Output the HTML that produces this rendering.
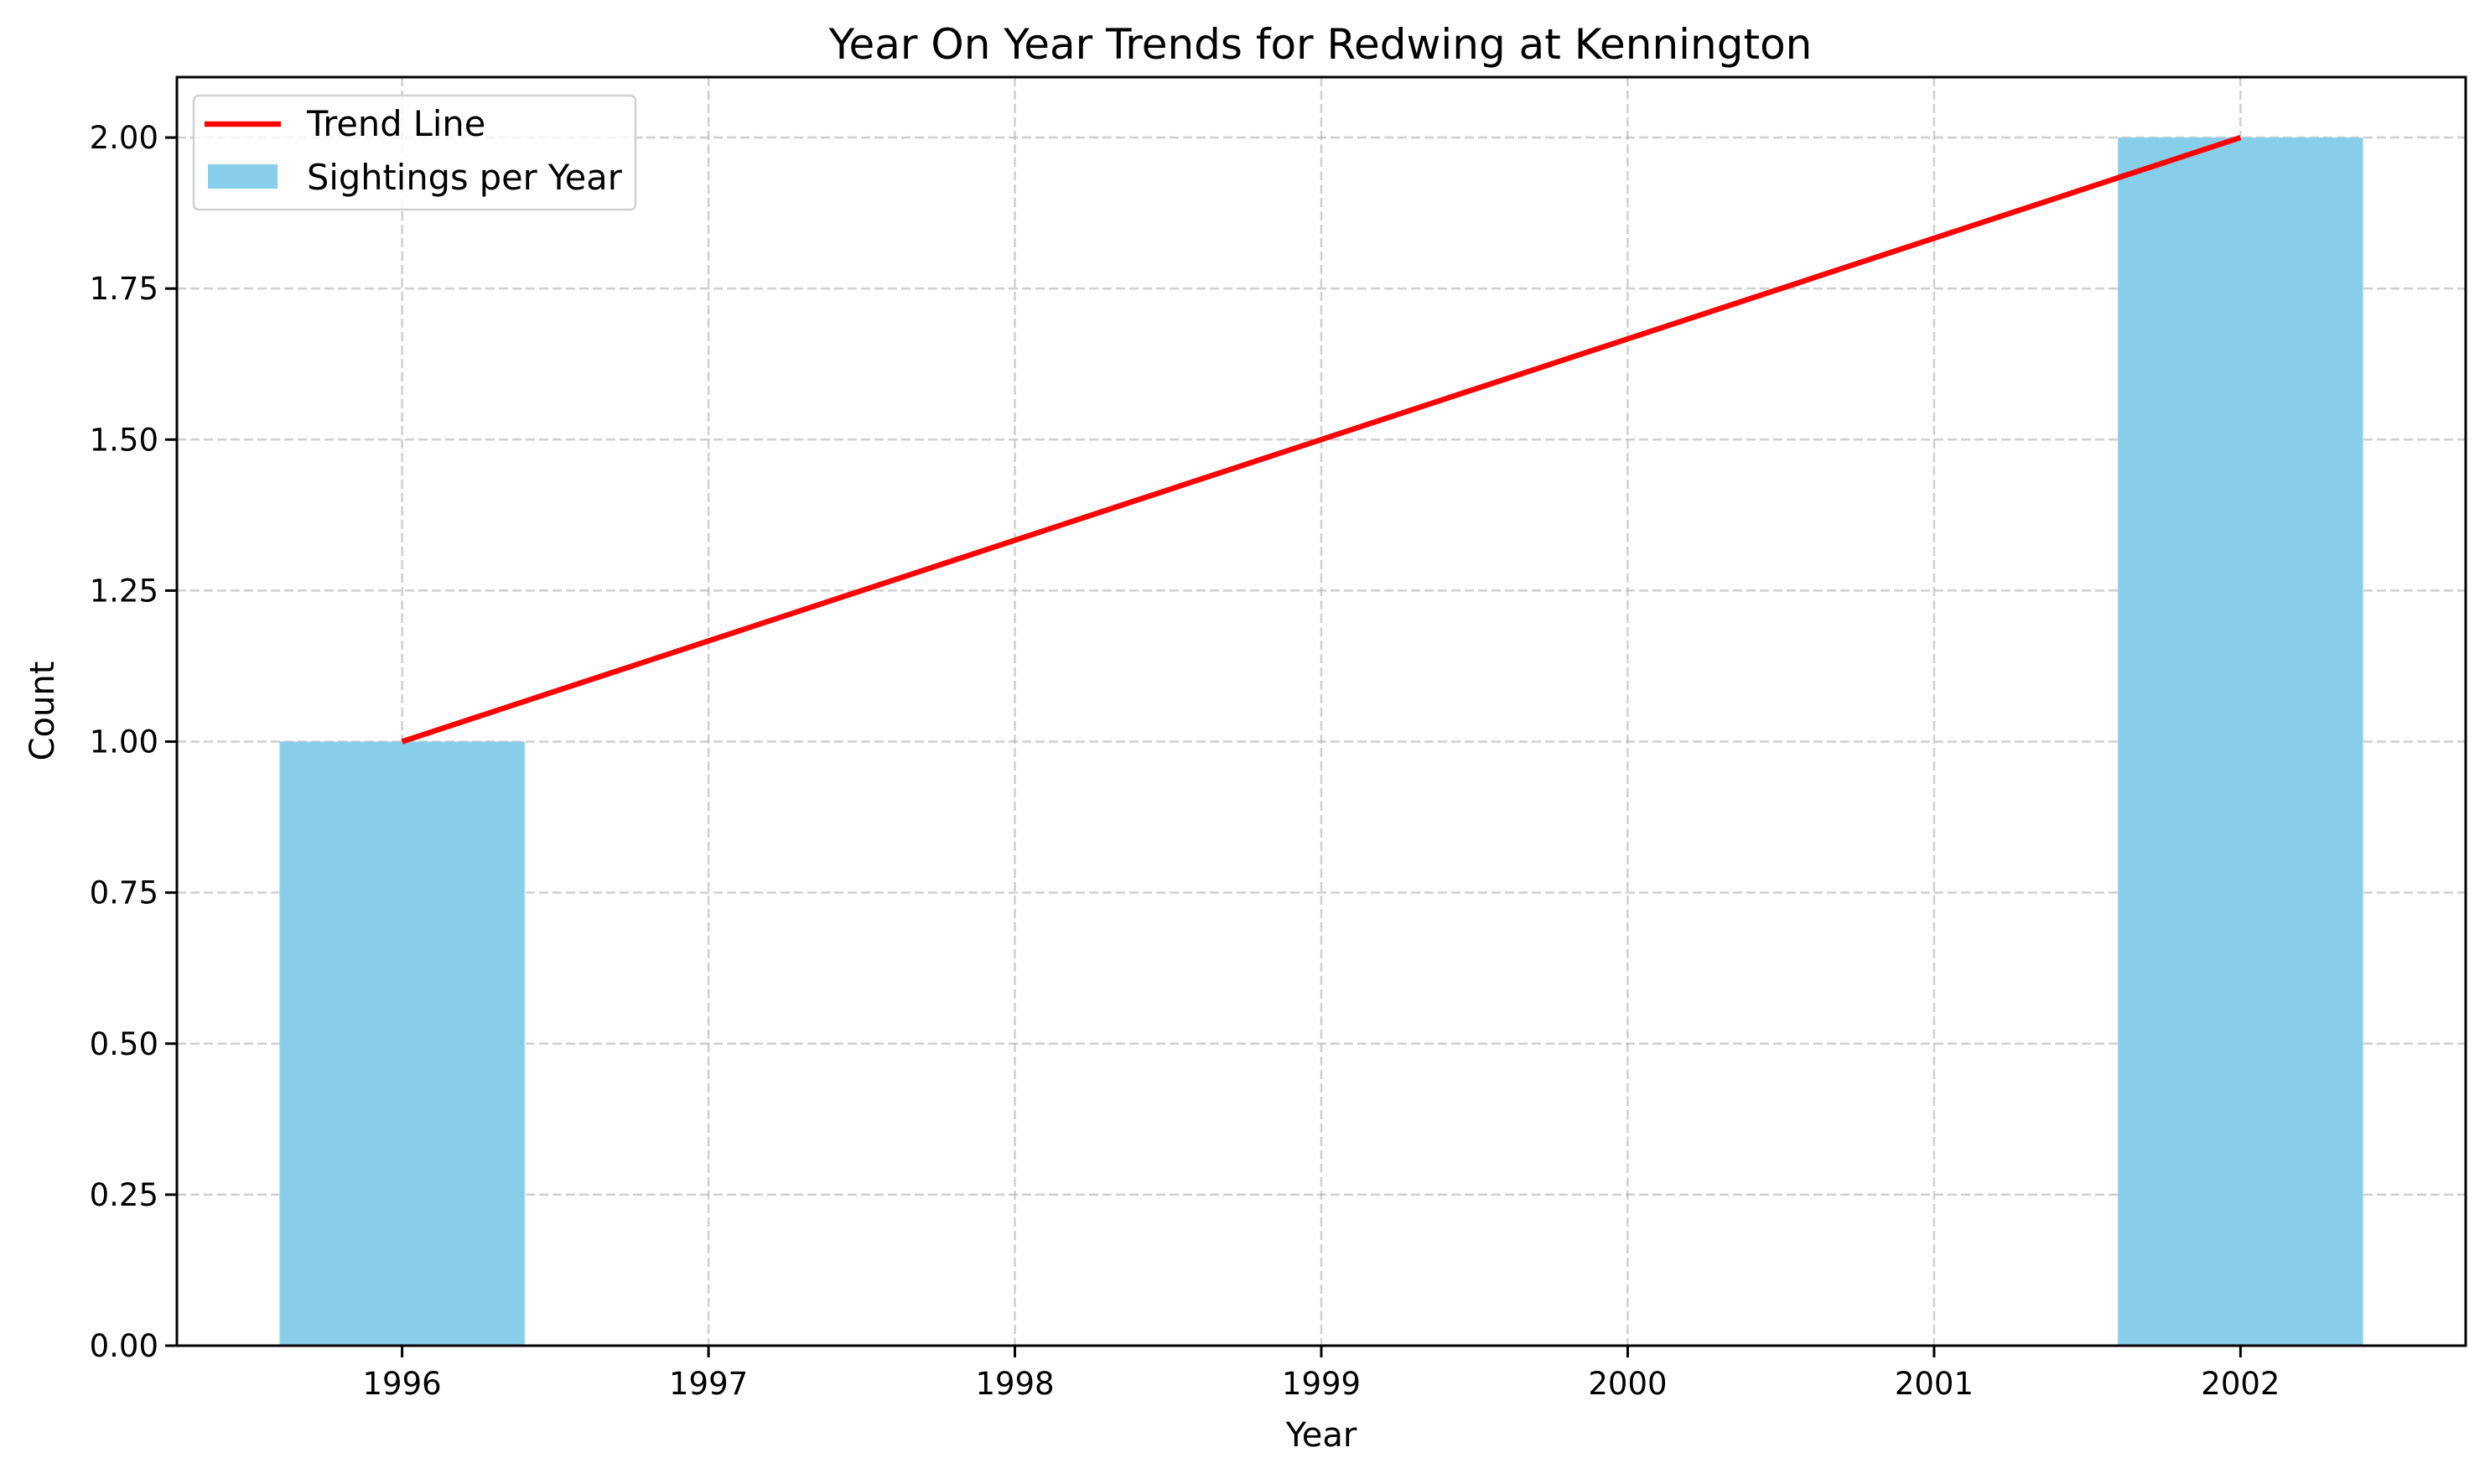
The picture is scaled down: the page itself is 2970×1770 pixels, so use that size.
<!DOCTYPE html>
<html><head><meta charset="utf-8"><style>
body{margin:0;background:#fff}
svg text{font-family:"DejaVu Sans","Liberation Sans",sans-serif;fill:#000}
</style></head><body>
<svg id="chart" width="2970" height="1765" xmlns="http://www.w3.org/2000/svg">
<rect width="2970" height="1765" fill="#fff"/>
<g id="grid"></g>
<g id="bars"></g>
<g id="trend"></g>
<g id="axes"></g>
<text x="1575" y="70" font-size="50" text-anchor="middle">Year On Year Trends for Redwing at Kennington</text>
<text x="1576" y="1725" font-size="40" text-anchor="middle">Year</text>
<text x="64" y="848" font-size="40" text-anchor="middle" transform="rotate(-90 64 848)">Count</text>
<g>
<rect x="231" y="114" width="527" height="136" rx="6" fill="#fff" fill-opacity="0.8" stroke="#d0d0d0" stroke-width="2.5"/>
<line x1="244" y1="148" x2="335" y2="148" stroke="#ff0000" stroke-width="6.5"/>
<text x="366" y="162" font-size="41.5">Trend Line</text>
<rect x="248" y="196" width="83" height="29" fill="#87ceeb"/>
<text x="366" y="226" font-size="41.5">Sightings per Year</text>
</g>
</svg>
<script>
const years = [1996, 1997, 1998, 1999, 2000, 2001, 2002];
const counts = [1, 0, 0, 0, 0, 0, 2];
const trendYears = [1996, 2002];
const trendValues = [1, 2];
const yTicks = [0, 0.25, 0.5, 0.75, 1.0, 1.25, 1.5, 1.75, 2.0];
const yTickLabels = ["0.00","0.25","0.50","0.75","1.00","1.25","1.50","1.75","2.00"];

const L=211,R=2941,T=92,B=1605;
const xMin=1995.265,xMax=2002.735,yMin=0,yMax=2.1;
const xs=v=>L+(v-xMin)/(xMax-xMin)*(R-L);
const ys=v=>B-(v-yMin)/(yMax-yMin)*(B-T);
const NS="http://www.w3.org/2000/svg";
function mk(tag,parent,attrs){const e=document.createElementNS(NS,tag);for(const k in attrs)e.setAttribute(k,attrs[k]);parent.appendChild(e);return e;}
const grid=document.getElementById('grid'),bars=document.getElementById('bars'),trend=document.getElementById('trend'),axes=document.getElementById('axes');
years.forEach(y=>{
  const g=mk('line',grid,{x1:xs(y),x2:xs(y),y1:T,y2:B,stroke:'#b0b0b0','stroke-opacity':'0.6','stroke-width':2.5,'stroke-dasharray':'11,5'});
  
  
});
yTicks.forEach(v=>{
  const g=mk('line',grid,{x1:L,x2:R,y1:ys(v),y2:ys(v),stroke:'#b0b0b0','stroke-opacity':'0.6','stroke-width':2.5,'stroke-dasharray':'11,5'});
  
  
});
years.forEach((y,i)=>{
  if(counts[i]<=0)return;
  const b=mk('rect',bars,{x:xs(y-0.4),y:ys(counts[i]),width:xs(y+0.4)-xs(y-0.4),height:ys(0)-ys(counts[i]),fill:'#87ceeb'});
  
  
});
const pts=trendYears.map((y,i)=>xs(y)+','+ys(trendValues[i])).join(' ');
const tl=mk('polyline',trend,{points:pts,fill:'none',stroke:'#ff0000','stroke-width':6.5});


const frame=mk('rect',axes,{x:L,y:T,width:R-L,height:B-T,fill:'none',stroke:'#000','stroke-width':3});


years.forEach(y=>{
  const t=mk('line',axes,{x1:xs(y),x2:xs(y),y1:B,y2:B+14,stroke:'#000','stroke-width':3});
  
  
  const tx=mk('text',axes,{x:xs(y),y:B+58,'font-size':37,'text-anchor':'middle'});
  tx.textContent=y;
  
  
});
yTicks.forEach((v,i)=>{
  const t=mk('line',axes,{x1:L-14,x2:L,y1:ys(v),y2:ys(v),stroke:'#000','stroke-width':3});
  
  
  const tx=mk('text',axes,{x:L-22,y:ys(v)+13,'font-size':37,'text-anchor':'end'});
  tx.textContent=yTickLabels[i];
  
  
});
</script>
</body></html>
